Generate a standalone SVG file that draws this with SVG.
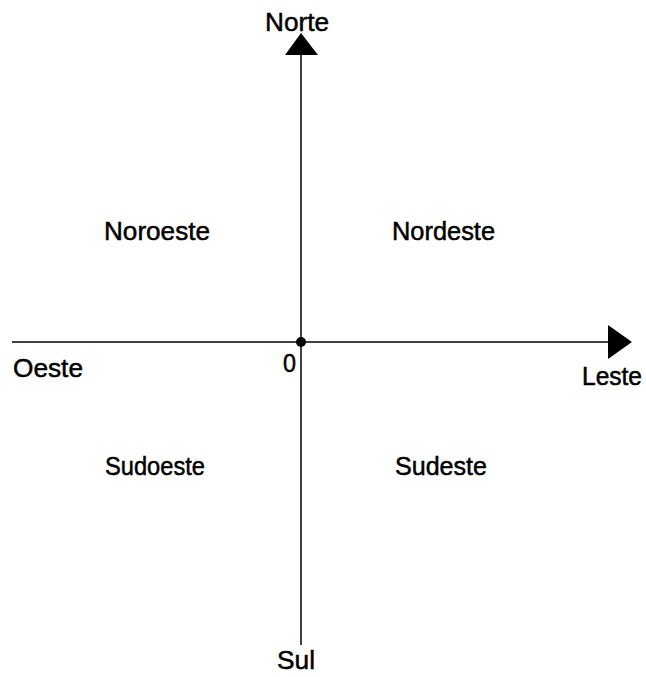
<svg xmlns="http://www.w3.org/2000/svg" width="646" height="677" viewBox="0 0 646 677">
<style>
text{font-family:"Liberation Sans",Arial,sans-serif;font-size:26px;fill:#000;stroke:#000;stroke-width:0.5}
.ax{stroke:#000;stroke-width:1.5;fill:none}
</style>
<rect width="646" height="677" fill="#fff"/>
<g id="connectors">
<line class="ax" x1="301" y1="50" x2="301" y2="645"/>
<line class="ax" x1="12" y1="342" x2="610" y2="342"/>
<polygon points="301,33 318,55 285,55" fill="#000"/>
<polygon points="632,342 608,325 608,359" fill="#000"/>
<circle cx="301" cy="342" r="5" fill="#000"/>
</g>
<g id="norte"><text x="265" y="31" textLength="64" lengthAdjust="spacingAndGlyphs">Norte</text></g>
<g id="noroeste"><text x="104" y="240" textLength="106" lengthAdjust="spacingAndGlyphs">Noroeste</text></g>
<g id="nordeste"><text x="392" y="240" textLength="103" lengthAdjust="spacingAndGlyphs">Nordeste</text></g>
<g id="oeste"><text x="13" y="377" textLength="70" lengthAdjust="spacingAndGlyphs">Oeste</text></g>
<g id="origem"><text x="283" y="372" textLength="13" lengthAdjust="spacingAndGlyphs">0</text></g>
<g id="leste"><text x="582" y="385" textLength="60" lengthAdjust="spacingAndGlyphs">Leste</text></g>
<g id="sudoeste"><text x="105" y="475" textLength="100" lengthAdjust="spacingAndGlyphs">Sudoeste</text></g>
<g id="sudeste"><text x="395" y="475" textLength="92" lengthAdjust="spacingAndGlyphs">Sudeste</text></g>
<g id="sul"><text x="277" y="669" textLength="38" lengthAdjust="spacingAndGlyphs">Sul</text></g>
</svg>
